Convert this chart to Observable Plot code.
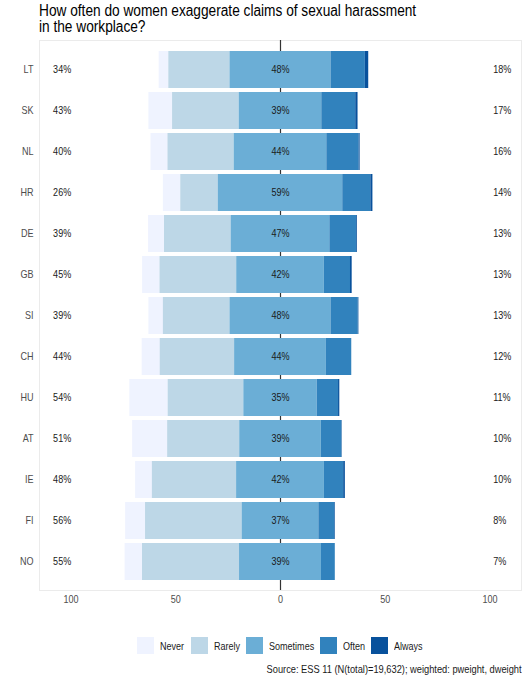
<!DOCTYPE html>
<html><head><meta charset="utf-8">
<script src="https://cdn.jsdelivr.net/npm/d3@7"></script>
<script src="https://cdn.jsdelivr.net/npm/@observablehq/plot@0.6"></script>
<style>
body{margin:0;background:#fff;font-family:"Liberation Sans",Arial,sans-serif;width:529px;height:680px;position:relative;overflow:hidden;}
#title{position:absolute;left:39px;top:3px;font-size:16px;line-height:16px;color:#000;white-space:nowrap;transform:scaleX(0.855);transform-origin:0 0;}
#chart{position:absolute;left:0;top:30px;}
#legend{position:absolute;left:39px;width:482px;top:637px;display:flex;justify-content:center;align-items:center;font-size:10.5px;color:#1a1a1a;}
#legend .item{display:flex;align-items:center;margin:0 3px;}
#legend .key{width:17px;height:17px;margin-right:6px;}
#legend .lab{display:inline-block;white-space:nowrap;transform:scaleX(0.86);transform-origin:0 50%;}
#source{position:absolute;right:7px;top:663px;font-size:10.8px;color:#1a1a1a;white-space:nowrap;transform:scaleX(0.86);transform-origin:100% 50%;}
</style></head><body>
<div id="title">How often do women exaggerate claims of sexual harassment<br>in the workplace?</div>
<div id="chart"></div>
<div id="legend"></div>
<div id="source">Source: ESS 11 (N(total)=19,632); weighted: pweight, dweight</div>
<script>
const countries = ["LT","SK","NL","HR","DE","GB","SI","CH","HU","AT","IE","FI","NO"];
const responses = ["Never","Rarely","Sometimes","Often","Always"];
const colors = ["#eff3ff","#bdd7e7","#6baed6","#3182bd","#08519c"];
const never     = [4.6, 11.3, 8.1, 8.3, 7.6, 8.3, 6.9, 8.6, 18.3, 16.7, 8.0, 9.5, 8.3];
const rarely    = [29.2, 31.8, 31.6, 17.9, 31.8, 36.6, 31.8, 35.5, 36.1, 34.4, 40.2, 46.1, 46.3];
const sometimes = [48.2, 39.4, 44.2, 59.4, 47.1, 41.8, 48.2, 43.8, 35.0, 38.9, 41.9, 36.6, 39.1];
const often     = [16.4, 16.2, 15.4, 13.4, 12.7, 12.5, 13.0, 12.1, 10.2, 9.8, 9.2, 7.6, 6.6];
const always    = [1.6, 1.1, 0.5, 1.0, 0.4, 0.8, 0.3, 0.0, 0.6, 0.2, 0.8, 0.3, 0.0];
const xTicks = [-100, -50, 0, 50, 100];

const rows = [];
const summary = [];
countries.forEach((c, i) => {
  const vals = [never[i], rarely[i], sometimes[i], often[i], always[i]];
  let start = -(never[i] + rarely[i] + sometimes[i] / 2);
  vals.forEach((v, j) => {
    rows.push({country: c, response: responses[j], x1: start, x2: start + v});
    start += v;
  });
  summary.push({
    country: c,
    left: Math.round(never[i] + rarely[i]) + "%",
    mid: Math.round(sometimes[i]) + "%",
    right: Math.round(often[i] + always[i]) + "%"
  });
});

const font = '"Liberation Sans", Arial, sans-serif';
const chart = Plot.plot({
  width: 529, height: 590,
  marginLeft: 39, marginRight: 8, marginTop: 10, marginBottom: 30,
  style: {fontFamily: font, fontSize: "10.5px", color: "#4d4d4d", background: "transparent"},
  x: {domain: [-115, 115], label: null},
  y: {domain: countries, paddingInner: 0.1, paddingOuter: 0.15, label: null},
  color: {domain: responses, range: colors},
  marks: [
    Plot.frame({stroke: "#ebebeb"}),
    Plot.ruleX([0], {stroke: "#333", strokeWidth: 1.2}),
    Plot.barX(rows, {y: "country", x1: "x1", x2: "x2", fill: "response"}),
    Plot.text(summary, {y: "country", x: 0, text: "mid", fill: "#1a1a1a", fontSize: 10.5}),
    Plot.text(summary, {y: "country", x: -108.5, text: "left", textAnchor: "start", fill: "#1a1a1a", fontSize: 10.5}),
    Plot.text(summary, {y: "country", x: 101.5, text: "right", textAnchor: "start", fill: "#1a1a1a", fontSize: 10.5}),
    Plot.axisX({ticks: xTicks, tickFormat: d => Math.abs(d), tickSize: 0, tickPadding: 5, label: null}),
    Plot.axisY({tickSize: 0, tickPadding: 6, label: null})
  ]
});
document.getElementById("chart").appendChild(chart);
// narrow the glyphs slightly, as in the reference rendering
chart.querySelectorAll("text").forEach(t => {
  const L = t.getComputedTextLength();
  if (L > 0) {
    t.setAttribute("textLength", (L * 0.86).toFixed(2));
    t.setAttribute("lengthAdjust", "spacingAndGlyphs");
  }
});

const legend = document.getElementById("legend");
responses.forEach((r, j) => {
  const item = document.createElement("div");
  item.className = "item";
  const key = document.createElement("div");
  key.className = "key";
  key.style.background = colors[j];
  const lab = document.createElement("span");
  lab.className = "lab";
  lab.textContent = r;
  item.appendChild(key);
  item.appendChild(lab);
  legend.appendChild(item);
});
legend.querySelectorAll(".lab").forEach(s => {
  s.style.marginRight = (-0.14 * s.offsetWidth).toFixed(2) + "px";
});
</script>
</body></html>
